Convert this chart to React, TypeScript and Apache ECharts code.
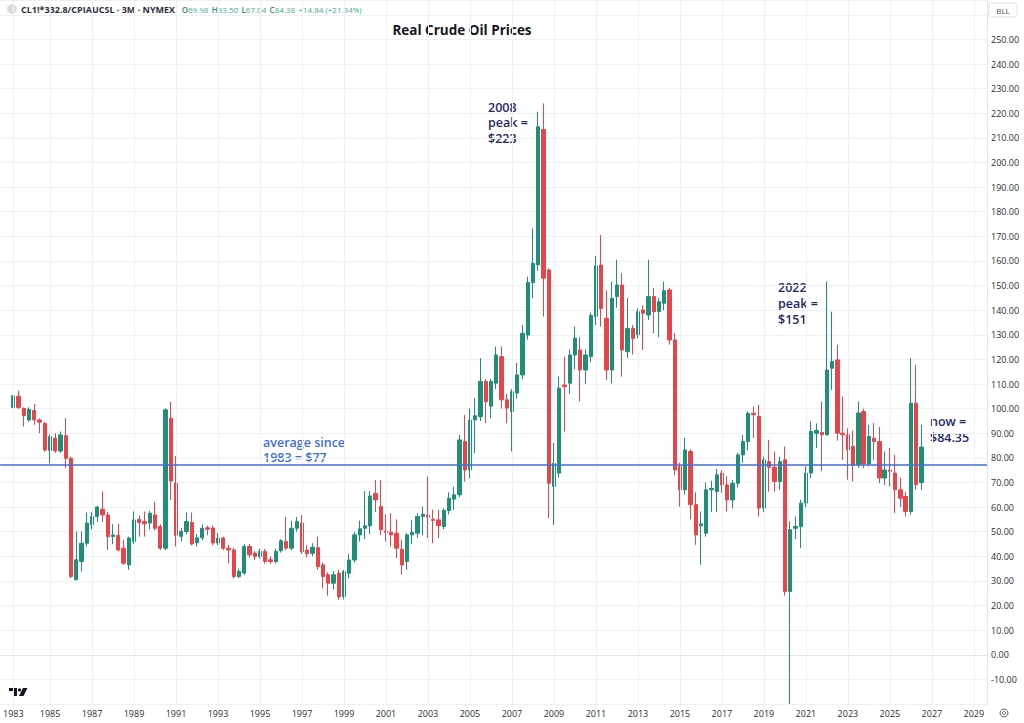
import React, { useEffect, useRef } from "react";
import * as echarts from "echarts";

// ---- categories: quarters from 1982 Q4 to 2029 Q3 (axis span) ----
const axisStartYear = 1982;
const axisStartQuarter = 4;
const axisQuarterCount = 188;
const firstBar = "1983Q2";

// tick labels on the time axis: [category, label]
const xTicks: [string, string][] = [
  ["1983Q2", "1983"], ["1985Q1", "1985"], ["1987Q1", "1987"], ["1989Q1", "1989"],
  ["1991Q1", "1991"], ["1993Q1", "1993"], ["1995Q1", "1995"], ["1997Q1", "1997"],
  ["1999Q1", "1999"], ["2001Q1", "2001"], ["2003Q1", "2003"], ["2005Q1", "2005"],
  ["2007Q1", "2007"], ["2009Q1", "2009"], ["2011Q1", "2011"], ["2013Q1", "2013"],
  ["2015Q1", "2015"], ["2017Q1", "2017"], ["2019Q1", "2019"], ["2021Q1", "2021"],
  ["2023Q1", "2023"], ["2025Q1", "2025"], ["2027Q1", "2027"], ["2029Q1", "2029"],
];

// ---- quarterly candles [open, close, low, high] ----
const ohlc1983to1989: number[][] = [
  [100.5, 105.2, 99.5, 107], [105, 100.5, 99.8, 107.3], [100.1, 97.2, 92.7, 100.5],
  [95.4, 99.7, 94.7, 100.5], [99.2, 95.4, 93.4, 101.9], [95.4, 94.5, 90, 96], [94.0, 83.2, 82.5, 94.5],
  [83, 88.6, 77.8, 89.5], [88, 82.8, 82, 90], [82.8, 89.3, 82, 90.7], [89, 79.8, 75.8, 96.1],
  [79.8, 31.8, 31.1, 80.5], [30.5, 38.6, 30.2, 50.1], [37.9, 45.3, 33.8, 50.1], [45.3, 53.5, 44, 57.8],
  [52.8, 56.2, 51, 58], [56.2, 60, 54, 60.5], [59.1, 56.8, 54, 66.3], [56.8, 48.0, 42.6, 58],
  [48, 48.7, 45, 53], [48.5, 42.6, 42, 53.2], [43.3, 37.2, 36.5, 46.6], [36.5, 47.4, 34.5, 48],
  [46, 54.8, 45, 58.2], [55, 53.7, 48, 56.5], [54.1, 53.2, 48, 58.2], [53.5, 57.5, 51, 58.5],
];
const ohlc1990s: number[][] = [
  [56.8, 51.4, 50.5, 62.2], [52.1, 43.3, 42.6, 53], [43.3, 99.5, 42.5, 100.1], [96.1, 70.6, 62.9, 102.8],
  [69.7, 48.5, 44, 80.7], [48.1, 50.1, 46, 51.5], [50.1, 54.1, 49, 57.8], [53.7, 45.0, 44.5, 57.8],
  [45.5, 47.5, 44, 49], [47.5, 51.4, 46.5, 53], [51.6, 51.0, 48.5, 52.5], [51.5, 45.4, 44.5, 52.5],
  [45.4, 47.4, 44.5, 49.5], [47.4, 43.3, 42.5, 48], [43.3, 42.6, 37.2, 44.7], [42.6, 31.8, 31, 43.5],
  [31.8, 33.9, 31.2, 35], [33.2, 44, 32.5, 45], [44, 40.6, 39.5, 45], [41.3, 39.9, 38.5, 42],
  [39.9, 42, 39, 43], [42, 37.9, 37, 43], [38.6, 37.9, 37, 40], [37.9, 42, 37, 43],
  [42.3, 46.3, 41.5, 47], [46, 43.3, 42.5, 56], [43.3, 51.4, 42.5, 54.5], [51.4, 54.1, 50, 56],
  [53.5, 41.9, 41, 56.8], [42.6, 41.0, 39.5, 44.5], [41.2, 43.7, 40, 45.3], [43.5, 35.8, 34.5, 48],
  [36.5, 31.8, 27, 37.5], [32.5, 29.1, 24, 33.5], [29.1, 32.5, 26.5, 34], [33.1, 23.5, 22.3, 34.5],
  [23.7, 33.8, 22.5, 34.5], [33.1, 38.5, 31, 41], [38.5, 48.7, 37.5, 50], [48.7, 51.2, 46, 54.5],
];
const ohlc2000s: number[][] = [
  [51.4, 52.4, 47, 66.5], [52.4, 64.5, 49, 66.5], [65.5, 62.9, 58, 71], [60.2, 50.8, 48.7, 71],
  [50.3, 49.7, 46, 57], [49.7, 48.7, 44, 57.5], [49.4, 43.3, 39.3, 55], [42.9, 36.5, 32.5, 46.7],
  [37.9, 48.7, 34.5, 49.4], [48.7, 49.7, 45, 54.8], [49.4, 56.2, 47.5, 57.5], [56.2, 57.1, 48.5, 60.2],
  [56.8, 55.9, 47.4, 72.4], [55, 54.6, 45.3, 58.9], [54.8, 52.4, 47.4, 58.9], [52.1, 58.6, 51, 59.5],
  [58.6, 63.6, 57, 66], [63.2, 65, 58.9, 68.3], [65, 87.3, 64, 89.3], [86.6, 75.1, 70.4, 97.4],
  [75.1, 95.4, 71.7, 100.1], [95.4, 97.1, 81.9, 104.2], [96.8, 111, 95, 120.5], [111, 102.8, 94.1, 112],
  [101, 111, 96.1, 112], [110.3, 121.8, 108, 125.2], [121.1, 103.6, 100, 125.2], [103.6, 100.2, 94.1, 106],
  [98.8, 106.9, 82.6, 108], [106.3, 113.7, 104, 118.5], [113.7, 130.6, 112, 134], [129.9, 151.2, 128, 153.6],
  [151.2, 159, 145, 173.2], [158.4, 214.5, 156, 220.6], [213.4, 153, 137.4, 224], [156.3, 69.7, 55.5, 157],
  [68.4, 77.8, 52.8, 86], [73.8, 108.3, 72, 113], [109.6, 108.9, 90.7, 121.1], [110.3, 121.8, 106, 124],
];
const ohlc2010s: number[][] = [
  [121.8, 128.6, 116, 133.3], [123.8, 115.7, 102.9, 129], [115.7, 121.8, 110, 124], [121.1, 137.8, 119, 139],
  [137.4, 158, 134, 162], [158.3, 140.7, 133.3, 170.5], [136.7, 115.7, 111.6, 148], [115.7, 144.8, 110.3, 151.6],
  [145.5, 150.2, 141, 160.4], [150.2, 123.8, 113, 155], [123.1, 132.6, 120.5, 145], [132.6, 128.5, 122, 134],
  [130, 139.4, 128.6, 140.7], [140.1, 138.7, 123.8, 142], [138, 145.5, 136, 160.4], [145.5, 139.4, 130.6, 149],
  [139.4, 143.4, 129, 145], [142.8, 147.9, 140, 151.6], [148.2, 127.9, 126, 149], [127.9, 75.1, 73, 130.6],
  [76.5, 67, 60.2, 78], [67, 83.2, 65, 88], [82.6, 61, 55, 83.5], [61, 48.7, 44.7, 66],
  [52.4, 53.2, 36.6, 58.2], [49.4, 67, 48, 70], [67, 67.6, 58, 70.7], [66.3, 73.1, 58, 75.5],
  [73.8, 69, 65.8, 75], [69, 62.9, 58.2, 72.5], [62.9, 69.7, 59.5, 71], [69.7, 81.2, 68, 82],
  [81.2, 86.6, 78, 89.3], [86.6, 98.1, 83, 98.8], [98.1, 97.5, 88, 100.8], [96.8, 59.6, 56.2, 101.5],
  [59.6, 79.2, 58, 80.5], [78.5, 76.2, 66.3, 87.3], [76.2, 70.4, 66.3, 82.5], [70.4, 78.5, 67, 80.5],
];
const ohlc2020s: number[][] = [
  [79.2, 25.7, 24, 84.6], [25.7, 50.8, -48.9, 54.2], [51.4, 52.1, 47, 56.2], [52, 61.6, 43.3, 63],
  [61.6, 73.8, 60, 76.5], [73.8, 90.7, 71.8, 94.8], [90, 91.1, 84, 94], [90.3, 89.4, 74.5, 102.9],
  [89.4, 115.7, 89, 151.6], [116.4, 119.1, 107.6, 139.4], [119.8, 90, 87, 125.9], [90, 89.4, 79.2, 104.9],
  [89.4, 83.3, 71.1, 92], [84.6, 77.2, 70.4, 91], [77.2, 98.2, 76, 102.9], [98.8, 77.5, 75.8, 100],
  [77.5, 88.7, 76.5, 93.4], [88, 86.6, 79.2, 94.1], [86.6, 71.8, 69.7, 92.5], [71.8, 75.1, 69, 82.6],
  [75.1, 74.5, 68.4, 84], [73.8, 67.0, 57.6, 81.2], [67, 63.6, 60, 72], [64.3, 58.2, 56.2, 66],
  [58.2, 102.2, 56.9, 120.5], [102.2, 69.1, 67, 117.8], [69.98, 84.38, 67.04, 93.5],
];

const averagePrice = 77;
const yMin = -20;
const yMax = 266;
const yLabelMin = -10;
const yLabelMax = 250;

// ---- derived ----
const categories: string[] = [];
{
  let y = axisStartYear;
  let q = axisStartQuarter;
  for (let i = 0; i < axisQuarterCount; i++) {
    categories.push(`${y}Q${q}`);
    q++;
    if (q > 4) { q = 1; y++; }
  }
}
const allCandles = [...ohlc1983to1989, ...ohlc1990s, ...ohlc2000s, ...ohlc2010s, ...ohlc2020s];
const startIdx = categories.indexOf(firstBar);
// wicks that run past the visible range are cut at the plot's bottom edge (as in the reference)
const candleData = allCandles.map((c, i) => [
  categories[startIdx + i],
  c[0],
  c[1],
  Math.max(c[2], yMin),
  Math.min(c[3], yMax),
]);
const tickMap: Record<string, string> = {};
xTicks.forEach(([c, l]) => (tickMap[c] = l));

const UP = "#1f8f77";
const DOWN = "#e8444c";
const GRID = "#eef0f4";
const NAVY = "#1d2b66";
const BLUE = "#3f6fd6";
const FONT = "'Open Sans', 'Noto Sans', sans-serif";

function textLines(lines: string[], x: number, y: number, step: number, fill: string): any[] {
  return lines.map((t, i) => ({
    type: "text",
    x,
    y: y + i * step,
    style: {
      text: t,
      verticalAlign: "middle",
      fontSize: 12.5,
      fontWeight: 600,
      fontFamily: FONT,
      fill,
    },
  }));
}

const option: any = {
  animation: false,
  backgroundColor: "#ffffff",
  grid: { left: 0, right: 37, top: 0, bottom: 19 },
  xAxis: {
    type: "category",
    data: categories,
    boundaryGap: true,
    axisLine: { show: true, lineStyle: { color: "#e3e6ec" } },
    axisTick: { show: false },
    splitLine: { show: false },
    axisLabel: {
      interval: (_i: number, v: string) => tickMap[v] !== undefined,
      formatter: (v: string) => tickMap[v] || "",
      color: "#2a2e39",
      fontSize: 9,
      fontFamily: FONT,
      margin: 5,
    },
  },
  yAxis: {
    type: "value",
    position: "right",
    min: yMin,
    max: yMax,
    interval: 10,
    axisLine: { show: true, lineStyle: { color: "#e3e6ec" } },
    axisTick: { show: false },
    splitLine: { show: true, lineStyle: { color: GRID, width: 1 } },
    axisLabel: {
      formatter: (v: number) =>
        v >= yLabelMin && v <= yLabelMax && Math.abs(v % 10) < 1e-6 ? v.toFixed(2) : "",
      color: "#2a2e39",
      fontSize: 9,
      fontFamily: FONT,
      margin: 4,
      showMinLabel: false,
      showMaxLabel: false,
    },
  },
  series: [
    {
      type: "line",
      data: [],
      z: 1,
      silent: true,
      markLine: {
        silent: true,
        symbol: ["none", "none"],
        label: { show: false },
        lineStyle: { color: GRID, width: 1, type: "solid" },
        data: xTicks.map(([c]) => ({ xAxis: c })),
      },
    },
    {
      type: "candlestick",
      z: 3,
      clip: true,
      barWidth: 3.8,
      encode: { x: 0, y: [1, 2, 3, 4] },
      data: candleData,
      itemStyle: {
        color: UP,
        color0: DOWN,
        borderColor: UP,
        borderColor0: DOWN,
        borderWidth: 1,
      },
      markLine: {
        silent: true,
        symbol: ["none", "none"],
        label: { show: false },
        lineStyle: { color: BLUE, width: 1.6, type: "solid" },
        data: [{ yAxis: averagePrice }],
      },
    },
  ],
  graphic: [
    { type: "circle", shape: { cx: 12, cy: 9, r: 5 }, style: { fill: "#dcdcdc" } },
    {
      type: "text",
      x: 21,
      y: 9,
      style: {
        text: "{a|CL1!*332.8/CPIAUCSL · 3M · NYMEX}  {k|O}{v|69.98} {k|H}{v|93.50} {k|L}{v|67.04} {k|C}{v|84.38} {v|+14.84 (+21.34%)}",
        verticalAlign: "middle",
        rich: {
          a: { fontSize: 9, fontWeight: 700, fill: "#2a2e39", fontFamily: FONT },
          k: { fontSize: 8, fontWeight: 600, fill: "#3c8a74", fontFamily: FONT },
          v: { fontSize: 8, fill: "#3fae8f", fontFamily: FONT },
        },
      },
    },
    {
      type: "text",
      x: 462,
      y: 30,
      style: {
        text: "Real Crude Oil Prices",
        align: "center",
        verticalAlign: "middle",
        fontSize: 13.5,
        fontWeight: 700,
        fontFamily: FONT,
        fill: "#131722",
      },
    },
    ...textLines(["2008", "peak =", "$223"], 488, 107, 15.5, NAVY),
    ...textLines(["2022", "peak =", "$151"], 778, 287, 16, NAVY),
    ...textLines(["now =", "$84.35"], 930, 421, 16, NAVY),
    ...textLines(["average since", "1983 = $77"], 263, 442, 15.5, BLUE),
    { type: "rect", shape: { x: 989, y: 3, width: 28, height: 14, r: 2 }, style: { fill: "#ffffff", stroke: "#e0e3eb", lineWidth: 1 } },
    { type: "text", x: 1003, y: 10, style: { text: "BLL", align: "center", verticalAlign: "middle", fontSize: 8, fontFamily: FONT, fill: "#555" } },
    { type: "polygon", shape: { points: [[9, 688], [17, 688], [17, 696], [14, 696], [14, 691], [9, 691]] }, style: { fill: "#131722" } },
    { type: "circle", shape: { cx: 19.5, cy: 690, r: 1.6 }, style: { fill: "#131722" } },
    { type: "polygon", shape: { points: [[23, 688], [27.5, 688], [23.5, 696], [19, 696]] }, style: { fill: "#131722" } },
    { type: "circle", shape: { cx: 1004, cy: 713, r: 4 }, style: { fill: "none", stroke: "#666", lineWidth: 1 } },
    { type: "circle", shape: { cx: 1004, cy: 713, r: 1.6 }, style: { fill: "none", stroke: "#666", lineWidth: 1 } },
  ],
};

export default function App() {
  const ref = useRef<HTMLDivElement>(null);
  useEffect(() => {
    document.body.style.margin = "0";
    const chart = echarts.init(ref.current!, null, { renderer: "svg" });
    chart.setOption(option);
    return () => chart.dispose();
  }, []);
  return (
    <div
      ref={ref}
      style={{ position: "absolute", left: 0, top: 0, width: 1024, height: 723, background: "#fff" }}
    />
  );
}
